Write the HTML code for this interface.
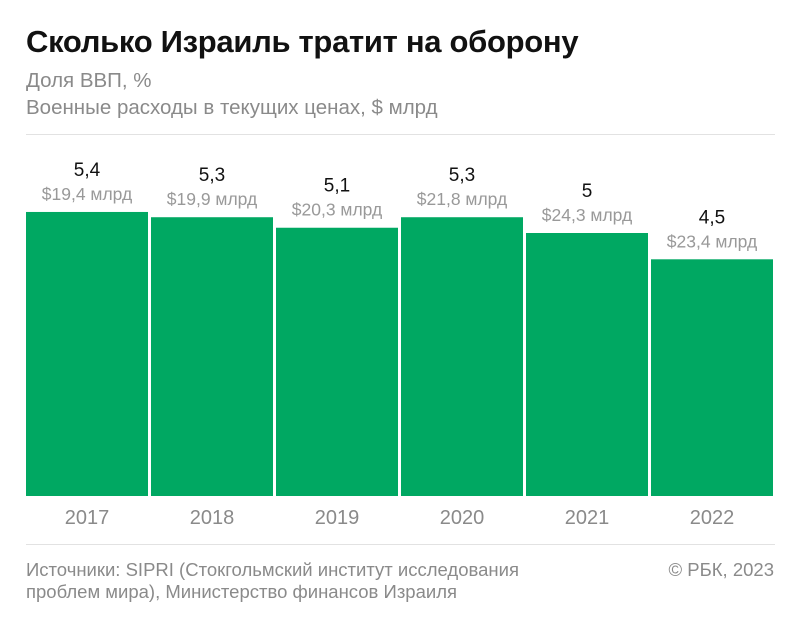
<!DOCTYPE html>
<html><head><meta charset="utf-8"><style>
body{margin:0;width:800px;height:621px;background:#fff;font-family:"Liberation Sans","Noto Sans CJK SC",sans-serif;overflow:hidden;position:relative}
.t{position:absolute;white-space:nowrap}
</style></head><body>
<div class="t" style="left:26px;top:24px;font-size:31px;font-weight:bold;color:#111;letter-spacing:-0.3px">Сколько Израиль тратит на оборону</div>
<div class="t" style="left:26px;top:69px;font-size:20.5px;color:#8a8a8a">Доля ВВП, %</div>
<div class="t" style="left:26px;top:96px;font-size:20.5px;color:#8a8a8a">Военные расходы в текущих ценах, $ млрд</div>
<div style="position:absolute;left:26px;top:134px;width:749px;height:1px;background:#e2e2e2"></div>
<svg id="chart" width="800" height="621" style="position:absolute;left:0;top:0"></svg>
<div style="position:absolute;left:26px;top:544px;width:749px;height:1px;background:#e2e2e2"></div>
<div class="t" style="left:26px;top:559px;font-size:18.5px;line-height:22px;color:#8a8a8a">Источники: SIPRI (Стокгольмский институт исследования<br>проблем мира), Министерство финансов Израиля</div>
<div class="t" style="right:26px;top:559px;font-size:18.5px;color:#8a8a8a">© РБК, 2023</div>
<script>
const years=["2017","2018","2019","2020","2021","2022"];
const gdpShare=[5.4,5.3,5.1,5.3,5.0,4.5];
const gdpLabels=["5,4","5,3","5,1","5,3","5","4,5"];
const spendLabels=["$19,4 млрд","$19,9 млрд","$20,3 млрд","$21,8 млрд","$24,3 млрд","$23,4 млрд"];
const svg=document.getElementById('chart');
const NS='http://www.w3.org/2000/svg';
const x0=26,pitch=125,gap=3,base=496,k=52.6;
const xs=i=>x0+i*pitch;
const ys=v=>base-v*k;
function mk(tag,attrs){const e=document.createElementNS(NS,tag);for(const a in attrs)e.setAttribute(a,attrs[a]);svg.appendChild(e);return e;}
years.forEach((yr,i)=>{
  const w=pitch-gap,top=ys(gdpShare[i]),cx=xs(i)+w/2;
  const r=mk('rect',{x:xs(i),y:top,width:w,height:base-top,fill:'#00a862'});
  
  
  const v=mk('text',{x:cx,y:top-36,'text-anchor':'middle','font-size':19,fill:'#111'});
  v.textContent=gdpLabels[i];
  
  
  const s=mk('text',{x:cx,y:top-12,'text-anchor':'middle','font-size':17.5,fill:'#999'});
  s.textContent=spendLabels[i];
  
  
  const t=mk('text',{x:cx,y:524,'text-anchor':'middle','font-size':20,fill:'#8a8a8a'});
  t.textContent=yr;
  
  
});
</script>
</body></html>
